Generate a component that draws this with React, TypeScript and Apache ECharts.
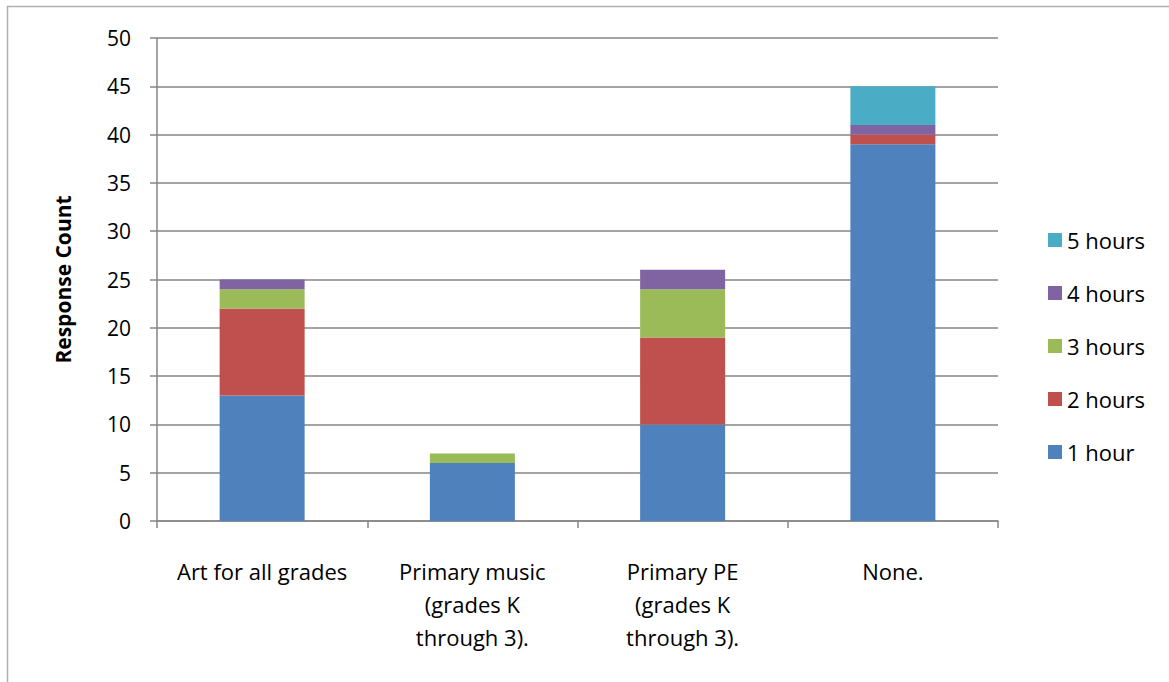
import React, { useEffect, useRef } from "react";
import * as echarts from "echarts";

const categories = [
  "Art for all grades",
  "Primary music\n(grades K\nthrough 3).",
  "Primary PE\n(grades K\nthrough 3).",
  "None.",
];
const seriesNames = ["1 hour", "2 hours", "3 hours", "4 hours", "5 hours"];
const hour1 = [13, 6, 10, 39];
const hour2 = [9, 0, 9, 1];
const hour3 = [2, 1, 5, 0];
const hour4 = [1, 0, 2, 1];
const hour5 = [0, 0, 0, 4];
const colors = ["#4F81BD", "#C0504D", "#9BBB59", "#8064A2", "#4BACC6"];
const yTicks = { min: 0, max: 50, interval: 5 };

const FONT = "'Open Sans', 'Noto Sans', sans-serif";

export default function App() {
  const ref = useRef<HTMLDivElement>(null);
  useEffect(() => {
    if (!ref.current) return;
    const chart = echarts.init(ref.current, undefined, { renderer: "svg" });
    const values = [hour1, hour2, hour3, hour4, hour5];
    chart.setOption({
      animation: false,
      backgroundColor: "#ffffff",
      textStyle: { fontFamily: FONT },
      graphic: [
        {
          type: "rect",
          shape: { x: 7.5, y: 6.5, width: 1175, height: 690 },
          style: { fill: "none", stroke: "#B0B0B0", lineWidth: 1.5 },
          silent: true,
        },
      ],
      grid: { left: 157, right: 171, top: 38, bottom: 161, containLabel: false },
      legend: {
        orient: "vertical",
        left: 1043,
        top: 224,
        itemWidth: 14,
        itemHeight: 14,
        itemGap: 31,
        icon: "rect",
        data: [...seriesNames].reverse(),
        textStyle: { fontFamily: FONT, fontSize: 22, lineHeight: 20, color: "#000" },
      },
      xAxis: {
        type: "category",
        data: categories,
        axisLine: { lineStyle: { color: "#868686", width: 1.5 } },
        axisTick: { show: true, length: 7, lineStyle: { color: "#868686", width: 1.5 } },
        axisLabel: {
          margin: 33,
          fontSize: 22,
          lineHeight: 33,
          color: "#000",
          fontFamily: FONT,
          interval: 0,
        },
      },
      yAxis: {
        type: "value",
        min: yTicks.min,
        max: yTicks.max,
        interval: yTicks.interval,
        name: "Response Count",
        nameLocation: "middle",
        nameGap: 84,
        nameRotate: 90,
        nameTextStyle: { fontFamily: FONT, fontSize: 21, fontWeight: "bold", color: "#000" },
        axisLine: { show: true, lineStyle: { color: "#868686", width: 1.5 } },
        axisTick: { show: true, length: 7, lineStyle: { color: "#868686", width: 1.5 } },
        splitLine: { lineStyle: { color: "#868686", width: 1.5 } },
        axisLabel: { fontSize: 21, color: "#000", margin: 26, fontFamily: FONT },
      },
      series: seriesNames.map((name, i) => ({
        name,
        type: "bar",
        stack: "total",
        barWidth: 85,
        data: values[i],
        itemStyle: { color: colors[i] },
      })),
    });
    return () => chart.dispose();
  }, []);
  return (
    <div
      ref={ref}
      style={{ position: "absolute", left: 0, top: 0, width: 1169, height: 682 }}
    />
  );
}
